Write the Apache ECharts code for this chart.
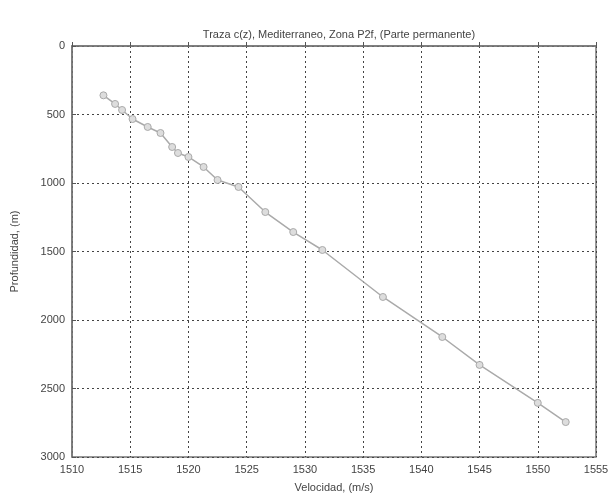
<!DOCTYPE html>
<html>
<head>
<meta charset="utf-8">
<script src="https://cdn.jsdelivr.net/npm/echarts@6/dist/echarts.min.js"></script>
<style>html,body{margin:0;padding:0;background:#fff;}#c{width:615px;height:500px;}</style>
</head>
<body>
<div id="c"></div>
<script>
const titleText = 'Traza c(z), Mediterraneo, Zona P2f, (Parte permanente)';
const xName = 'Velocidad, (m/s)';
const yName = 'Profundidad, (m)';
const velocity = [1512.7, 1513.7, 1514.3, 1515.2, 1516.5, 1517.6, 1518.6, 1519.1, 1520.0, 1521.3, 1522.5, 1524.3, 1526.6, 1529.0, 1531.5, 1536.7, 1541.8, 1545.0, 1550.0, 1552.4];
const depth =    [360,    423,    467,    533,    591,    635,    737,    781,    810,    883,    978,    1029,   1212,   1358,   1489,   1832,   2124,   2328,   2605,   2745];
const xMin = 1510, xMax = 1555, xStep = 5;
const yMin = 0, yMax = 3000, yStep = 500;

const data = velocity.map((v, i) => [v, depth[i]]);
const chart = echarts.init(document.getElementById('c'));
const font = 'Liberation Sans, Arial, sans-serif';
chart.setOption({
  animation: false,
  backgroundColor: '#fff',
  title: {
    text: titleText, left: 334, top: 24, textAlign: 'center',
    textStyle: {fontSize: 11, fontWeight: 'normal', color: '#444', fontFamily: font}
  },
  grid: {left: 72, right: 19, top: 46, bottom: 43, show: true, borderColor: '#777', borderWidth: 1.5},
  xAxis: {
    type: 'value', min: xMin, max: xMax, interval: xStep,
    name: xName, nameLocation: 'middle', nameGap: 25,
    nameTextStyle: {fontSize: 11, color: '#444', fontFamily: font},
    axisLine: {show: true, lineStyle: {color: '#777', width: 1.5}},
    axisTick: {show: true, inside: true, length: 4, lineStyle: {color: '#555'}},
    axisLabel: {fontSize: 11, color: '#444', fontFamily: font, margin: 7, formatter: v => String(v)},
    splitLine: {show: true, lineStyle: {type: [2, 3], color: '#444', width: 1}}
  },
  yAxis: {
    type: 'value', min: yMin, max: yMax, interval: yStep, inverse: true,
    name: yName, nameLocation: 'middle', nameGap: 52, nameRotate: 90,
    nameTextStyle: {fontSize: 11, color: '#444', fontFamily: font},
    axisLine: {show: true, lineStyle: {color: '#777', width: 1.5}},
    axisTick: {show: true, inside: true, length: 4, lineStyle: {color: '#555'}},
    axisLabel: {fontSize: 11, color: '#444', fontFamily: font, margin: 7, formatter: v => String(v)},
    splitLine: {show: true, lineStyle: {type: [2, 3], color: '#444', width: 1}}
  },
  series: [{
    type: 'line', data: data,
    symbol: 'circle', symbolSize: 7,
    lineStyle: {color: '#aaa', width: 1.5},
    itemStyle: {color: '#ddd', borderColor: '#aaa', borderWidth: 1}
  }]
});
</script>
</body>
</html>
